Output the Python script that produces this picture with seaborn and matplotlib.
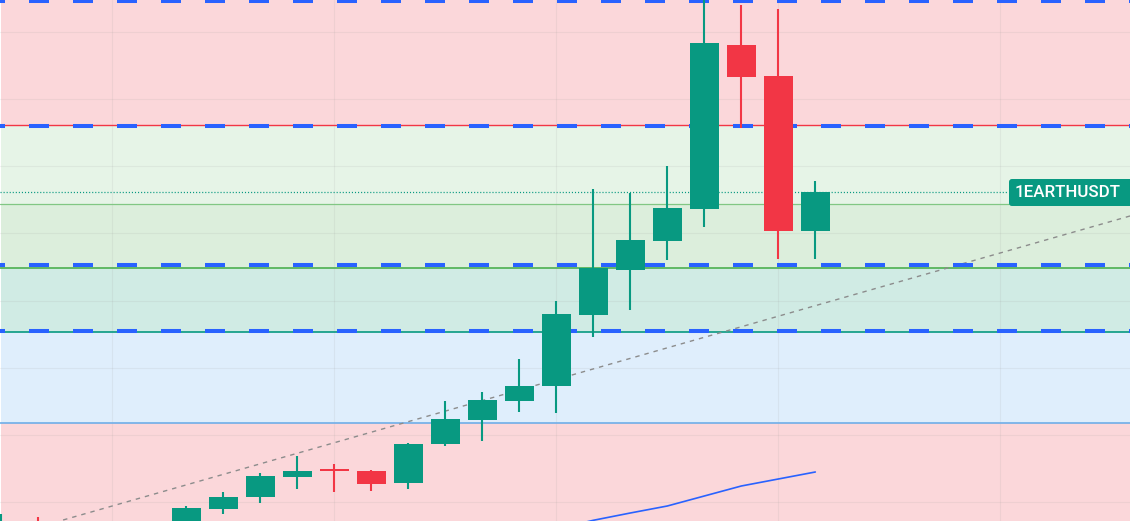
import matplotlib
matplotlib.use("Agg")
import matplotlib.pyplot as plt
from matplotlib.patches import FancyBboxPatch
import seaborn as sns
import pandas as pd

# ---------------- data ----------------
idx = list(range(23))
opens = [-30, -8, -20, -12, -9, -6, 12.3, 24.3, 44.3, 52, 50, 38.3, 77.3, 101.3,
         120.3, 135.3, 206.3, 251, 280.3, 312, 476, 445, 290.3]
highs = [7, 4, -6, -3, -2, 15, 29, 48, 65.3, 57, 51, 78, 120, 129,
         162, 220, 332, 328, 355, 525, 516, 512, 340]
lows = [-40, -25, -30, -22, -18, -10, 7, 18.3, 32, 29, 30.3, 32.3, 75.3, 80.3,
        109.3, 108.3, 184.3, 211, 261.3, 294.3, 393.3, 262.3, 262.3]
closes = [-5, -18, -12, -8, -6, 13, 24, 45, 50, 50, 37.3, 77, 102, 121,
          135, 207, 252.7, 281, 313, 478, 444, 290.3, 329]

ma_idx = [15, 16, 17, 18, 19, 20, 21, 22]
ma_vals = [-8, 0.7, 8, 15, 25, 35, 42, 49]

trend_x = [1.67, 30.6]
trend_y = [1, 306]

band_bounds = [(396, 560), (317, 396), (253, 317), (189, 253), (98, 189), (-60, 98)]
band_colors = ["#FBD7DA", "#E6F4E7", "#DCEEDC", "#D0EBE4", "#DFEEFC", "#FBD7DA"]

solid_levels = [396, 317, 253, 189, 98]
solid_colors = ["#F23645", "#81C784", "#4CAF50", "#089981", "#6FAEE8"]
solid_widths = [1.0, 0.9, 1.2, 1.2, 1.2]

dashed_levels = [520.3, 395.5, 256, 190.3]

grid_y = [489, 422, 355, 288, 220, 153, 86, 19]
grid_x = [3, 9, 15, 21, 27]

label_text = "1EARTHUSDT"

# ---------------- style ----------------
sns.set_theme(style="white")
plt.rcParams["font.family"] = ["Roboto", "DejaVu Sans"]
plt.rcParams["lines.scale_dashes"] = False

UP = "#089981"
DOWN = "#F23645"

fig = plt.figure(figsize=(11.30, 5.21), dpi=100)
ax = fig.add_axes([0, 0, 1, 1])
x_lo = (0 - 1.3) / 37
x_hi = (1130 - 1.3) / 37
ax.set_xlim(x_lo, x_hi)
ax.set_ylim(0, 521)
ax.axis("off")

# background bands
for (b0, b1), c in zip(band_bounds, band_colors):
    ax.axhspan(b0, b1, xmin=1 / 1130, xmax=1, color=c, lw=0, zorder=0)

# grid
for g in grid_y:
    ax.axhline(g, color="#9a9a9a", alpha=0.13, lw=0.8, zorder=1)
for g in grid_x:
    ax.axvline(g, color="#9a9a9a", alpha=0.13, lw=0.8, zorder=1)

# solid level lines
for lv, c, w in zip(solid_levels, solid_colors, solid_widths):
    ax.axhline(lv, color=c, lw=w, zorder=2)

# dotted last price line
ax.plot([x_lo, 27.2], [closes[-1], closes[-1]], color=UP, lw=0.9,
        linestyle=(0, (0.8, 1.4)), zorder=2)

# trendline
trend_df = pd.DataFrame({"x": trend_x, "y": trend_y})
sns.lineplot(data=trend_df, x="x", y="y", ax=ax, color="#8C8C8C", lw=1.0,
             linestyle=(0, (3.2, 3.6)), zorder=3, legend=False)

# blue dashed levels
for lv in dashed_levels:
    ax.plot([x_lo, x_hi], [lv, lv], color="#2962FF", lw=2.9,
            linestyle=(10.8, (14.4, 17.28)), solid_capstyle="butt", zorder=4)

# moving average line
ma_df = pd.DataFrame({"x": ma_idx, "y": ma_vals})
sns.lineplot(data=ma_df, x="x", y="y", ax=ax, color="#2962FF", lw=1.2,
             zorder=5, legend=False)

# candles
for i, o, h, l, c in zip(idx, opens, highs, lows, closes):
    col = UP if c >= o else DOWN
    ax.vlines(i, l, h, color=col, lw=1.5, zorder=6)
    ax.bar(i, abs(c - o), bottom=min(o, c), width=0.785, color=col,
           edgecolor="none", zorder=7)

# label
x0 = (1009 - 1.3) / 37
x1 = (1140 - 1.3) / 37
box = FancyBboxPatch((x0, 315), x1 - x0, 27,
                     boxstyle="round,pad=0,rounding_size=0.08",
                     mutation_aspect=37, facecolor=UP, edgecolor="none",
                     zorder=8)
ax.add_patch(box)
ax.text((1068 - 1.3) / 37, 328.3, label_text, color="white", fontsize=12.2,
        fontweight="medium", ha="center", va="center", zorder=9)

ax.set_xlabel("")
ax.set_ylabel("")
fig.savefig("out.png", dpi=100)
